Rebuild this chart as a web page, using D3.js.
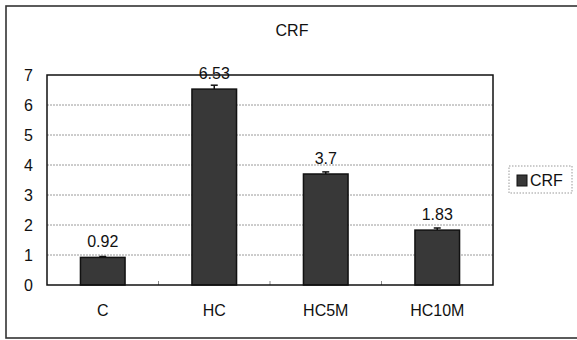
<!DOCTYPE html>
<html>
<head>
<meta charset="utf-8">
<script src="https://cdn.jsdelivr.net/npm/d3@7"></script>
<style>
  html, body { margin: 0; padding: 0; background: #fff; }
  svg { display: block; font-family: "Liberation Sans", Arial, sans-serif; }
</style>
</head>
<body>
<svg id="chart" width="577" height="340"></svg>
<script>
// CRF by group
const categories = ["C", "HC", "HC5M", "HC10M"];
const crfValues = [0.92, 6.53, 3.7, 1.83];
const crfErrors = [0.03, 0.13, 0.07, 0.07];
const yTicks = [0, 1, 2, 3, 4, 5, 6, 7];
const seriesName = "CRF";
const chartTitle = "CRF";

const svg = d3.select("#chart");

const plot = { left: 47, right: 493, top: 75, bottom: 285 };

// outer chart frame
svg.append("rect")
  .attr("x", 6).attr("y", 6)
  .attr("width", 575).attr("height", 332)
  .attr("fill", "#fff")
  .attr("stroke", "#333").attr("stroke-width", 1.6);

const x = d3.scaleBand()
  .domain(categories)
  .range([plot.left, plot.right])
  .paddingInner(0.6)
  .paddingOuter(0.3);

const y = d3.scaleLinear()
  .domain([0, 7])
  .range([plot.bottom, plot.top]);

// title
svg.append("text")
  .attr("x", 292).attr("y", 30)
  .attr("text-anchor", "middle")
  .attr("dominant-baseline", "central")
  .attr("font-size", 16)
  .attr("fill", "#111")
  .text(chartTitle);

// horizontal gridlines
svg.append("g")
  .selectAll("line")
  .data(yTicks.filter(t => t > 0 && t < 7))
  .join("line")
  .attr("x1", plot.left).attr("x2", plot.right)
  .attr("y1", d => y(d)).attr("y2", d => y(d))
  .attr("stroke", "#9a9a9a")
  .attr("stroke-width", 1)
  .attr("stroke-dasharray", "2,1");

// y axis labels
const yAxis = d3.axisLeft(y)
  .tickValues(yTicks)
  .tickFormat(d3.format("d"))
  .tickSize(0)
  .tickPadding(14);
const yg = svg.append("g")
  .attr("transform", `translate(${plot.left},0)`)
  .call(yAxis);
yg.select(".domain").remove();
yg.selectAll("text")
  .attr("font-size", 16)
  .attr("font-family", "Liberation Sans, Arial, sans-serif")
  .attr("fill", "#111");

// x axis labels
const xAxis = d3.axisBottom(x).tickSize(0).tickPadding(20);
const xg = svg.append("g")
  .attr("transform", `translate(0,${plot.bottom})`)
  .call(xAxis);
xg.select(".domain").remove();
xg.selectAll("text")
  .attr("font-size", 16)
  .attr("font-family", "Liberation Sans, Arial, sans-serif")
  .attr("fill", "#111");

// small tick marks between categories
const step = x.step();
svg.append("g")
  .selectAll("line")
  .data(categories.slice(1))
  .join("line")
  .attr("x1", d => x(d) - step * x.paddingInner() / 2)
  .attr("x2", d => x(d) - step * x.paddingInner() / 2)
  .attr("y1", plot.bottom).attr("y2", plot.bottom - 4)
  .attr("stroke", "#888").attr("stroke-width", 1);

// bars
svg.append("g")
  .selectAll("rect")
  .data(categories)
  .join("rect")
  .attr("x", d => x(d))
  .attr("width", x.bandwidth())
  .attr("y", (d, i) => y(crfValues[i]))
  .attr("height", (d, i) => y(0) - y(crfValues[i]))
  .attr("fill", "#383838")
  .attr("stroke", "#111")
  .attr("stroke-width", 1.5);

// error bars (upper)
const eb = svg.append("g");
categories.forEach((c, i) => {
  const cx = x(c) + x.bandwidth() / 2;
  const top = y(crfValues[i] + crfErrors[i]);
  eb.append("line")
    .attr("x1", cx).attr("x2", cx)
    .attr("y1", y(crfValues[i])).attr("y2", top)
    .attr("stroke", "#111").attr("stroke-width", 1.5);
  eb.append("line")
    .attr("x1", cx - 3.5).attr("x2", cx + 3.5)
    .attr("y1", top).attr("y2", top)
    .attr("stroke", "#111").attr("stroke-width", 1.5);
});

// plot area border
svg.append("rect")
  .attr("x", plot.left).attr("y", plot.top)
  .attr("width", plot.right - plot.left)
  .attr("height", plot.bottom - plot.top)
  .attr("fill", "none")
  .attr("stroke", "#111").attr("stroke-width", 1.5);

// value labels
svg.append("g")
  .selectAll("text")
  .data(categories)
  .join("text")
  .attr("x", d => x(d) + x.bandwidth() / 2)
  .attr("y", (d, i) => y(crfValues[i]) - 16)
  .attr("text-anchor", "middle")
  .attr("dominant-baseline", "central")
  .attr("font-size", 16)
  .attr("fill", "#111")
  .text((d, i) => String(crfValues[i]));

// legend
const lg = svg.append("g");
lg.append("rect")
  .attr("x", 509).attr("y", 166)
  .attr("width", 63).attr("height", 27)
  .attr("fill", "#fff")
  .attr("stroke", "#999").attr("stroke-width", 1)
  .attr("stroke-dasharray", "1.5,1.5");
lg.append("rect")
  .attr("x", 517).attr("y", 175)
  .attr("width", 10).attr("height", 11)
  .attr("fill", "#383838")
  .attr("stroke", "#111").attr("stroke-width", 1);
lg.append("text")
  .attr("x", 530).attr("y", 180.5)
  .attr("dominant-baseline", "central")
  .attr("font-size", 16)
  .attr("fill", "#111")
  .text(seriesName);
</script>
</body>
</html>
